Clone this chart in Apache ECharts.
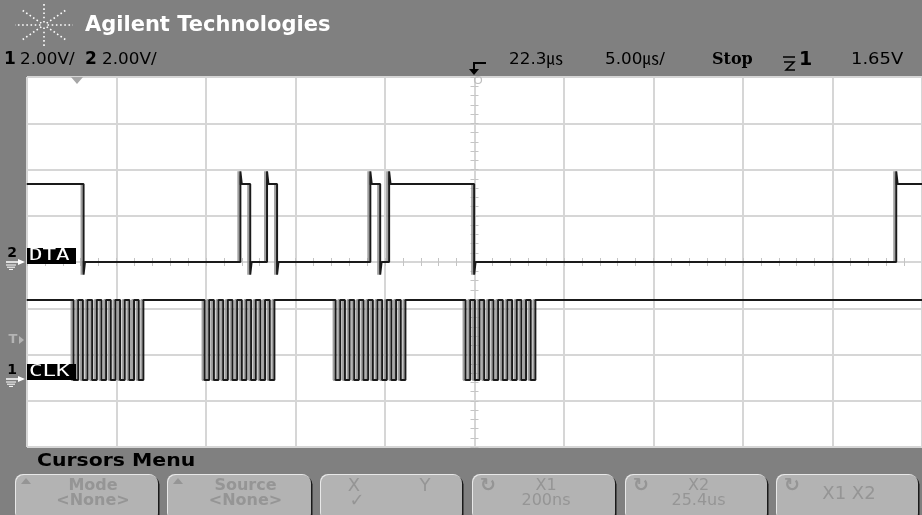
<!DOCTYPE html>
<html><head><meta charset="utf-8">
<script src="https://cdn.jsdelivr.net/npm/echarts@6/dist/echarts.min.js"></script>
<style>html,body{margin:0;padding:0;background:#808080}#c{width:922px;height:515px}</style>
</head><body><div id="c"></div>
<script>
// ---- data (time in µs relative to screen centre, 5 µs/div; voltage in V, 2 V/div) ----
const timeMin = -25, timeMax = 25, timeStep = 5;
const divMin = -4, divMax = 4;
const voltsPerDiv = 2;
const dtaGroundDiv = 0;       // channel 2 ground marker
const clkGroundDiv = -2.55;   // channel 1 ground marker
const dtaHigh = 3.37, dtaLow = 0, dtaRinging = 0.55;
const clkHigh = 3.46, clkLow = 0;
// DTA transitions (starts high)
const dtaEdges = [-21.84, -13.08, -12.53, -11.59, -11.03, -5.82, -5.27, -4.77, -0.02, 23.56];
// CLK transitions (starts high), four bursts of 8 cycles
const clkBurst1 = [-22.40, -22.14, -21.88, -21.62, -21.36, -21.10, -20.84, -20.58, -20.32, -20.06, -19.80, -19.54, -19.28, -19.02, -18.76, -18.50];
const clkBurst2 = [-15.08, -14.82, -14.56, -14.30, -14.04, -13.78, -13.52, -13.26, -13.00, -12.74, -12.48, -12.22, -11.96, -11.70, -11.44, -11.18];
const clkBurst3 = [-7.76, -7.50, -7.24, -6.98, -6.72, -6.46, -6.20, -5.94, -5.68, -5.42, -5.16, -4.90, -4.64, -4.38, -4.12, -3.86];
const clkBurst4 = [-0.50, -0.24, 0.02, 0.28, 0.54, 0.80, 1.06, 1.32, 1.58, 1.84, 2.10, 2.36, 2.62, 2.88, 3.14, 3.40];
// texts
const brand = 'Agilent Technologies';
const chanScales = ['1', '2.00V/', '2', '2.00V/'];
const timeInfo = ['22.3㎲', '5.00㎲/', 'Stop', '1', '1.65V'];
const channelNames = ['DTA', 'CLK'];
const menuTitle = 'Cursors Menu';
const buttonTexts = [['Mode', '<None>'], ['Source', '<None>'], ['X', 'Y', '✓'], ['X1', '200ns'], ['X2', '25.4us'], ['X1 X2']];

function stepTrace(edges, hi, lo, ground, ring) {
  let high = true;
  const pts = [[timeMin, hi]];
  edges.forEach(t => {
    const from = high ? hi : lo, to = high ? lo : hi;
    pts.push([t, from]);
    if (ring) { pts.push([t, high ? to - ring : to + ring]); pts.push([t + 0.08, to]); }
    else pts.push([t, to]);
    high = !high;
  });
  pts.push([timeMax, high ? hi : lo]);
  return pts.map(p => [p[0], ground + p[1] / voltsPerDiv]);
}
const dtaData = stepTrace(dtaEdges, dtaHigh, dtaLow, dtaGroundDiv, dtaRinging);
const clkData = stepTrace([].concat(clkBurst1, clkBurst2, clkBurst3, clkBurst4), clkHigh, clkLow, clkGroundDiv, 0);

const chart = echarts.init(document.getElementById('c'), null, {renderer: 'canvas'});
const FONT = '"DejaVu Sans", "Noto Sans CJK SC", sans-serif';
const gridColor = '#d6d6d6';
const tickColor = '#c4c4c4';

function txt(x, y, s, size, opt) {
  opt = opt || {};
  return {type: 'text', x: x, y: y, z: 50, scaleX: opt.sx || 1, originX: 0, originY: 0,
    style: {text: s, fill: opt.fill || '#000', font: (opt.bold ? 'bold ' : '') + size + 'px ' + (opt.family || FONT),
      align: opt.align || 'left', textAlign: opt.align || 'left', verticalAlign: 'middle', textVerticalAlign: 'middle'}};
}
const g = [];
// logo
const lc = [44, 25];
[[29, 0], [-29, 0], [0, 21], [0, -21], [22, 15], [-22, 15], [22, -15], [-22, -15]].forEach(d => {
  g.push({type: 'line', z: 50, shape: {x1: lc[0] + d[0] * 0.12, y1: lc[1] + d[1] * 0.12, x2: lc[0] + d[0], y2: lc[1] + d[1]},
    style: {stroke: '#fff', lineWidth: 1.6, lineDash: [1.6, 2.6]}});
});
g.push(txt(85, 26, brand, 21, {bold: true, fill: '#fff'}));
// channel scale row
g.push(txt(4, 60, chanScales[0], 17, {bold: true}));
g.push(txt(20, 60, chanScales[1], 16, {sx: 1.05}));
g.push(txt(85, 60, chanScales[2], 17, {bold: true}));
g.push(txt(102, 60, chanScales[3], 16, {sx: 1.05}));
// trigger marker
g.push({type: 'polyline', z: 50, shape: {points: [[486, 63], [474, 63], [474, 71]]}, style: {stroke: '#000', lineWidth: 2, fill: null}});
g.push({type: 'polygon', z: 50, shape: {points: [[469, 69], [479, 69], [474, 75]]}, style: {fill: '#000'}});
g.push({type: 'circle', z: 50, shape: {cx: 478, cy: 80, r: 3.5}, style: {stroke: '#bdbdbd', fill: null, lineWidth: 1.2}});
g.push(txt(509, 60, timeInfo[0], 16, {sx: 1.05}));
g.push(txt(605, 60, timeInfo[1], 16, {sx: 1.05}));
g.push(txt(712, 60, timeInfo[2], 16, {bold: true, family: '"DejaVu Serif", serif'}));
// trigger slope glyph
g.push({type: 'line', z: 50, shape: {x1: 783, y1: 57, x2: 795, y2: 57}, style: {stroke: '#000', lineWidth: 1.5}});
g.push({type: 'polyline', z: 50, shape: {points: [[784, 62], [794, 62], [786, 70], [795, 70]]}, style: {stroke: '#000', lineWidth: 1.5, fill: null}});
g.push(txt(799, 60, timeInfo[3], 19, {bold: true}));
g.push(txt(851, 60, timeInfo[4], 16, {sx: 1.12}));
// top-left position marker
g.push({type: 'polygon', z: 50, shape: {points: [[71, 77], [83, 77], [77, 84]]}, style: {fill: '#a6a6a6'}});
// left channel markers
function gndMarker(label, yTop, col) {
  g.push(txt(12, yTop + 5, label, 14, {bold: true, fill: col, align: 'center'}));
  g.push({type: 'line', z: 50, shape: {x1: 6, y1: yTop + 14, x2: 21, y2: yTop + 14}, style: {stroke: '#fff', lineWidth: 1.5}});
  g.push({type: 'polygon', z: 50, shape: {points: [[18, yTop + 11], [25, yTop + 14], [18, yTop + 17]]}, style: {fill: '#fff'}});
  [[6, 16], [7, 15], [9, 13]].forEach((w, i) => g.push({type: 'line', z: 50,
    shape: {x1: w[0], y1: yTop + 17 + i * 2.2, x2: w[1], y2: yTop + 17 + i * 2.2}, style: {stroke: '#fff', lineWidth: 1}}));
}
gndMarker('2', 248, '#000');
gndMarker('1', 365, '#000');
g.push(txt(13, 340, 'T', 13, {bold: true, fill: '#b4b4b4', align: 'center'}));
g.push({type: 'polygon', z: 50, shape: {points: [[19, 336], [24, 340], [19, 344]]}, style: {fill: '#b4b4b4'}});
// channel name boxes
[[248, channelNames[0]], [364, channelNames[1]]].forEach(b => {
  g.push({type: 'rect', z: 49, shape: {x: 27, y: b[0], width: 49, height: 16}, style: {fill: '#000'}});
  g.push(txt(29, b[0] + 8.5, b[1], 15, {fill: '#fff', sx: 1.5, family: '"DejaVu Sans Mono", monospace'}));
});
// bottom menu
g.push(txt(37, 462, menuTitle, 17, {bold: true, sx: 1.2}));
const btns = [[16, 142], [168, 143], [321, 141], [473, 142], [626, 141], [777, 141]];
const btnFill = '#b3b3b3', btnText = '#959595';
btns.forEach((b, i) => {
  g.push({type: 'rect', z: 40, shape: {x: b[0] + 1.5, y: 476.5, width: b[1], height: 46, r: 8}, style: {fill: '#1a1a1a'}});
  g.push({type: 'rect', z: 41, shape: {x: b[0] - 1, y: 474, width: b[1], height: 46, r: 8}, style: {fill: '#e8e8e8'}});
  g.push({type: 'rect', z: 42, shape: {x: b[0], y: 475, width: b[1], height: 46, r: 8}, style: {fill: btnFill}});
  const cx = b[0] + b[1] / 2 + 6;
  const t = buttonTexts[i];
  if (i < 2) {
    g.push({type: 'polygon', z: 50, shape: {points: [[b[0] + 5, 484], [b[0] + 15, 484], [b[0] + 10, 478]]}, style: {fill: btnText}});
    g.push(txt(cx, 486, t[0], 16, {bold: true, fill: btnText, align: 'center'}));
    g.push(txt(cx, 501, t[1], 16, {bold: true, fill: btnText, align: 'center'}));
  } else if (i === 2) {
    g.push(txt(b[0] + 33, 486, t[0], 18, {fill: btnText, align: 'center'}));
    g.push(txt(b[0] + 104, 486, t[1], 18, {fill: btnText, align: 'center'}));
    g.push(txt(b[0] + 36, 501, t[2], 18, {fill: btnText, align: 'center'}));
  } else if (i < 5) {
    g.push(txt(b[0] + 15, 486, '↻', 19, {bold: true, fill: btnText, align: 'center'}));
    g.push(txt(cx - 4, 486, t[0], 16, {fill: btnText, align: 'center'}));
    g.push(txt(cx - 4, 501, t[1], 16, {fill: btnText, align: 'center'}));
  } else {
    g.push(txt(b[0] + 15, 486, '↻', 19, {bold: true, fill: btnText, align: 'center'}));
    g.push(txt(b[0] + 72, 494, t[0], 18, {fill: btnText, align: 'center'}));
  }
});

const lineStyle = {color: '#1a1a1a', width: 2, shadowColor: 'rgba(150,150,150,0.9)', shadowBlur: 0, shadowOffsetX: -2};
function centerAxisX(inside) {
  return {type: 'value', min: timeMin, max: timeMax, interval: 1, show: true,
    axisLine: {show: true, onZero: true, lineStyle: {opacity: 0}},
    axisTick: {show: true, inside: inside, length: 4, lineStyle: {color: tickColor, width: 1}},
    axisLabel: {show: false}, splitLine: {show: false}};
}
function centerAxisY(inside) {
  return {type: 'value', min: divMin, max: divMax, interval: 0.2, show: true,
    axisLine: {show: true, onZero: true, lineStyle: {opacity: 0}},
    axisTick: {show: true, inside: inside, length: 4, lineStyle: {color: tickColor, width: 1}},
    axisLabel: {show: false}, splitLine: {show: false}};
}
chart.setOption({
  backgroundColor: '#808080',
  animation: false,
  grid: {left: 27, right: -7, top: 77, bottom: 68, show: true, backgroundColor: '#ffffff', borderWidth: 0, containLabel: false},
  xAxis: [
    {type: 'value', min: timeMin, max: timeMax, interval: timeStep,
      axisLine: {show: false}, axisTick: {show: false}, axisLabel: {show: false},
      splitLine: {show: true, lineStyle: {color: gridColor, width: 2}}},
    centerAxisX(true), centerAxisX(false)
  ],
  yAxis: [
    {type: 'value', min: divMin, max: divMax, interval: 1,
      axisLine: {show: false}, axisTick: {show: false}, axisLabel: {show: false},
      splitLine: {show: true, lineStyle: {color: gridColor, width: 2}}},
    centerAxisY(true), centerAxisY(false)
  ],
  series: [
    {name: 'DTA', type: 'line', data: dtaData, showSymbol: false, symbol: 'none', lineStyle: lineStyle, z: 5},
    {name: 'CLK', type: 'line', data: clkData, showSymbol: false, symbol: 'none', lineStyle: lineStyle, z: 5}
  ],
  graphic: {elements: g}
});
</script></body></html>
